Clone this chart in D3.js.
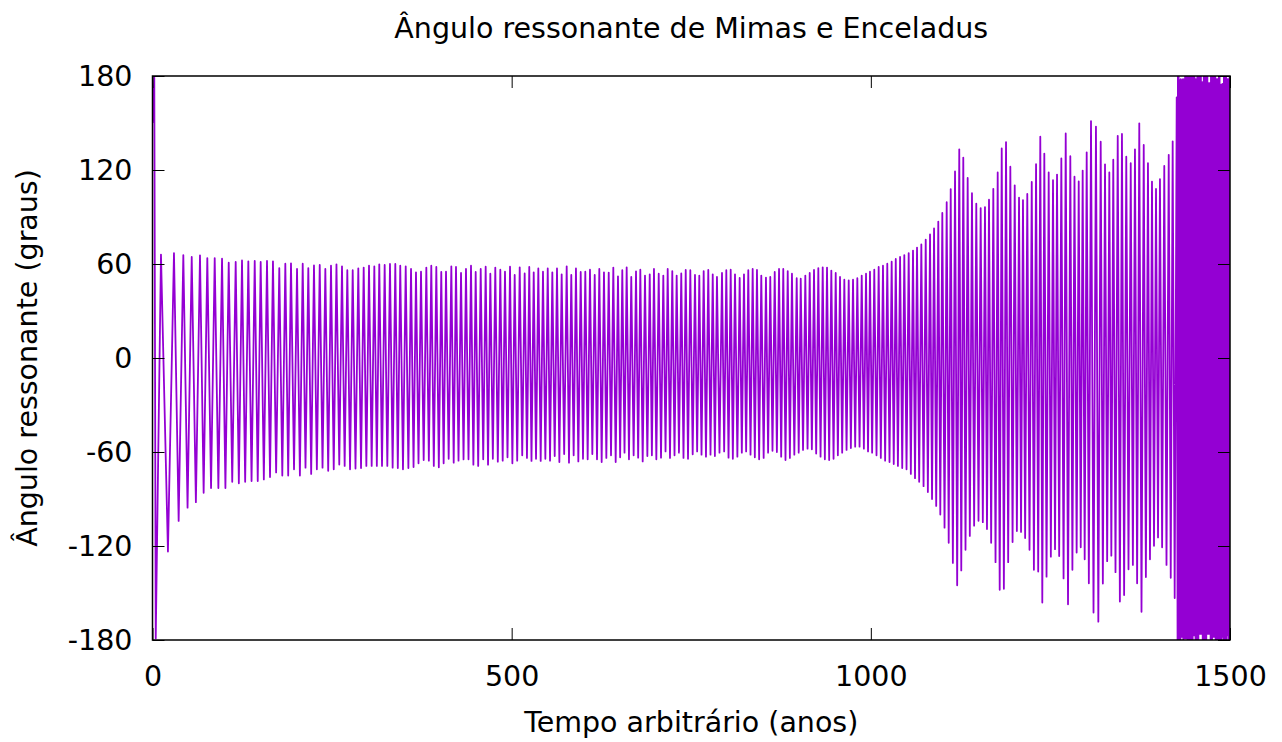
<!DOCTYPE html>
<html>
<head>
<meta charset="utf-8">
<script src="https://cdn.jsdelivr.net/npm/d3@7"></script>
<style>
  body { margin: 0; background: #fff; }
  svg { display: block; }
  text { font-family: "DejaVu Sans", sans-serif; fill: #000; }
</style>
</head>
<body>
<svg id="chart" width="1282" height="742"></svg>
<script>
// Resonant angle of the Mimas–Enceladus pair: turning points of each libration
// cycle (years, degrees), then the circulating stretch at the end of the run.

const xTicks = [0, 500, 1000, 1500];
const yTicks = [-180, -120, -60, 0, 60, 120, 180];

// Capture: the angle reaches +180, wraps to -180, then starts librating.
const startYears = [0, 2.5, 4.5];
const startDegrees = [150, 179, -179];

// Maxima of each libration cycle
const peakYears = [
  11.8, 29.9, 42.9, 54.6, 66.1, 76.3, 86.6, 96.8, 106.1, 115.8, 124.6, 133.4, 142.3, 150.6, 159.4, 167.7, 176.5, 184.9, 192.8, 201.2, 209.1, 216.9, 224.8, 232.8, 240.6, 248.5, 256.1,
  263.8, 271.2, 278.7, 286.5, 294.0, 301.4, 308.8, 315.7, 323.2, 330.6, 338.0, 344.9, 352.5, 359.9, 366.8, 373.8, 381.2, 388.1, 395.1, 402.0, 408.6, 416.0, 422.5, 429.5, 436.4, 443.4, 449.9, 456.9, 463.8, 470.3, 477.2, 484.2, 490.7, 497.7, 504.2, 511.2, 518.1, 524.5,
  530.7, 537.1, 543.6, 550.2, 556.6, 563.1, 569.6, 576.6, 583.0, 589.5, 596.1, 602.5, 609.0, 615.6, 622.0, 628.5, 635.1, 641.5, 648.0, 654.0, 660.1, 666.5, 673.1, 679.1, 685.6, 692.2, 698.1, 704.7, 711.1, 717.2, 723.6, 729.7, 736.1, 742.3, 748.7, 755.2, 761.2, 767.3, 773.7, 779.9, 785.8,
  792.8, 798.8, 804.9, 810.9, 817.4, 823.4, 829.4, 835.5, 841.5, 847.5, 854.0, 860.0, 866.2, 872.2, 878.1, 884.3, 890.2, 896.8, 902.4, 908.8, 914.9, 920.9, 926.9, 933.0, 939.0, 945.0, 951.1, 957.1, 963.1, 969.2, 975.2, 981.2, 987.3, 993.3, 998.8, 1004.8, 1010.9, 1016.9, 1022.9, 1029.0, 1034.7, 1040.7, 1046.6, 1052.7,
  1058.7, 1064.3, 1070.3, 1076.4, 1082.4, 1088.0, 1093.9, 1099.5, 1105.6, 1111.2, 1117.2, 1123.1, 1128.7, 1134.8, 1140.8, 1146.8, 1152.9, 1158.9, 1164.5, 1170.5, 1176.6, 1182.2, 1188.2, 1194.2, 1200.3, 1206.3, 1211.8, 1217.8, 1224.0, 1230.0, 1235.9, 1241.5, 1247.6, 1253.6, 1259.2, 1265.2, 1271.3, 1277.7, 1283.5, 1289.4,
  1294.9, 1300.5, 1306.5, 1313.4, 1320.0, 1326.0, 1332.0, 1337.5, 1343.7, 1349.6, 1355.6, 1361.8, 1367.7, 1373.7, 1379.9, 1385.8, 1391.4, 1397.0, 1402.5, 1408.5, 1414.7, 1420.2, 1425.8
];
const peakDegrees = [
  66, 67, 65.7, 64.5, 65.5, 63.8, 63.8, 63.4, 60.8, 61.3, 62.3, 61.7, 61.9, 61.3, 61.9, 61.7, 57.4, 60.2, 60.4, 56.8, 60.2, 57.4, 59.1, 59.4, 56.8, 58.9, 59.8,
  58.5, 56, 56, 57.2, 57.7, 58.9, 58.5, 59.8, 59.4, 60, 60, 58.9, 58.5, 56.8, 54.7, 55.1, 57.7, 58.9, 58.1, 54.9, 55.1, 58.5, 58.1, 54.3, 56.8, 58.9, 54.9, 56.8, 58.3, 53.8, 57.7, 56.4, 55.1, 58.3, 53, 57.9, 54, 58.1,
  54.7, 57.2, 55.1, 57.2, 54.7, 57.2, 53.4, 58.5, 53, 57.2, 54.9, 55.1, 56.4, 53, 56.8, 54.7, 54.5, 57.7, 52.1, 56, 57.9, 51.7, 55.3, 56.4, 52.6, 53.4, 56.8, 53.8, 52.6, 56.8, 55.5, 52.6, 54, 56.2, 56, 53, 52.6, 55.5, 56.2, 53.4, 51.7,
  54.3, 56, 56.4, 53.4, 51.1, 53.4, 56, 56.8, 56.2, 52.6, 51.3, 51.7, 54.9, 56.8, 56.8, 55.5, 53.8, 50.9, 50.6, 52.6, 54.3, 56.2, 57.4, 57.9, 57.7, 55.8, 54.3, 51.7, 50, 49.6, 50, 50.9, 52.6, 53.8, 55.1, 56.4, 58.1, 58.9, 60.2, 61.5, 63.2, 64.5, 65.7, 67,
  68.6, 70.5, 72.5, 75.6, 78.9, 82.7, 87.1, 92.6, 99.4, 107.8, 119.1, 133.2, 127.9, 114.9, 105.2, 98.6, 95.7, 96.3, 101, 108, 118.4, 133.8, 137.8, 122.1, 110.2, 102.3, 100.8, 104.7, 112.4, 123.7, 141.3, 130.5, 118.4, 113.5, 117.1, 127.4, 143.3, 128.8, 115.7, 112.7,
  119.6, 131.3, 151.2, 147.7, 138.1, 123.6, 118.4, 126.6, 141.8, 143, 128.5, 124.3, 133.2, 149.8, 136, 124.3, 112.6, 107.9, 114.2, 122.6, 129.7, 138.3, 166.4
];

// Minima, each one following the maximum of the same index
const troughYears = [
  21.5, 36.4, 48.8, 60.4, 71.2, 81.5, 91.7, 101.5, 111.0, 120.2, 129.0, 137.9, 146.5, 155.0, 163.6, 172.1, 180.7, 188.9, 197.0, 205.2, 213.0, 220.9, 228.8, 236.7, 244.6, 252.3, 260.0,
  267.5, 275.0, 282.6, 290.3, 297.7, 305.1, 312.3, 319.5, 326.9, 334.3, 341.5, 348.7, 356.2, 363.4, 370.3, 377.5, 384.7, 391.6, 398.6, 405.3, 412.3, 419.3, 426.0, 433.0, 439.9, 446.7, 453.4, 460.4, 467.1, 473.8, 480.7, 487.5, 494.2, 501.0, 507.7, 514.7, 521.3, 527.6,
  533.9, 540.4, 546.9, 553.4, 559.9, 566.4, 573.1, 579.8, 586.3, 592.8, 599.3, 605.8, 612.3, 618.8, 625.3, 631.8, 638.3, 644.8, 651.0, 657.1, 663.3, 669.8, 676.1, 682.4, 688.9, 695.2, 701.4, 707.9, 714.2, 720.4, 726.7, 732.9, 739.2, 745.5, 752.0, 758.2, 764.3, 770.5, 776.8, 782.9, 789.3,
  795.8, 801.9, 807.9, 814.2, 820.4, 826.4, 832.5, 838.5, 844.5, 850.8, 857.0, 863.1, 869.2, 875.2, 881.2, 887.3, 893.5, 899.6, 905.6, 911.9, 917.9, 923.9, 930.0, 936.0, 942.0, 948.1, 954.1, 960.1, 966.2, 972.2, 978.2, 984.3, 990.3, 996.1, 1001.8, 1007.9, 1013.9, 1019.9, 1026.0, 1031.9, 1037.7, 1043.7, 1049.7, 1055.7,
  1061.5, 1067.3, 1073.4, 1079.4, 1085.2, 1091.0, 1096.7, 1102.6, 1108.4, 1114.2, 1120.2, 1125.9, 1131.8, 1137.8, 1143.8, 1149.9, 1155.9, 1161.7, 1167.5, 1173.6, 1179.4, 1185.2, 1191.2, 1197.3, 1203.3, 1209.1, 1214.8, 1220.9, 1227.0, 1233.0, 1238.7, 1244.6, 1250.6, 1256.4, 1262.2, 1268.3, 1274.5, 1280.6, 1286.5, 1292.2,
  1297.7, 1303.5, 1310.0, 1316.7, 1323.0, 1329.0, 1334.8, 1340.6, 1346.7, 1352.6, 1358.7, 1364.8, 1370.7, 1376.8, 1382.9, 1388.6, 1394.2, 1399.8, 1405.5, 1411.6, 1417.5, 1423.0
];
const troughDegrees = [
  -123.5, -104, -95.5, -92, -86, -83, -83, -83, -79, -80, -79, -78.5, -78.5, -77.5, -76, -73, -75, -75, -71, -75, -70, -74, -71, -70, -72, -71, -68,
  -68.9, -71, -70.6, -70.2, -68.9, -68.9, -68.9, -68.9, -68.9, -70, -70.2, -71, -70.2, -69.6, -67.2, -65.1, -65.5, -68.9, -69.8, -67.2, -64.3, -66.8, -65.5, -64.7, -64.7, -68.1, -68.9, -64.7, -68.1, -64.3, -66.2, -65.5, -63.4, -67.2, -65.5, -62.1, -63.8, -65.7,
  -64.3, -65.7, -64.3, -65.5, -62.6, -66.4, -61.3, -66.8, -62.1, -66, -64.3, -64.7, -61.3, -64.7, -66.4, -63.8, -62.1, -66.4, -63.4, -60.4, -64.7, -62.1, -63.6, -66, -62.6, -62.1, -64.7, -63.6, -59.6, -63.8, -62.1, -60.4, -63.8, -64.3, -61.5, -59.6, -61.7, -63, -61.7, -62.6, -60.4,
  -59.6, -63.6, -64.3, -63, -60.4, -59.6, -61.7, -63.4, -64.7, -63.8, -60.4, -59.2, -60, -63, -65.1, -63.8, -61.7, -60.4, -58.7, -57.9, -58.3, -61, -63, -64.7, -65.1, -64.3, -62.1, -60.4, -58.7, -57.5, -56.6, -56.6, -57.9, -59.6, -60.4, -62.1, -63.8, -65.5, -66.4, -67.7, -68.9, -70.2, -71, -74,
  -76.7, -79, -81.8, -85.6, -90, -94.4, -99.9, -108.3, -118, -130.8, -145.1, -135.6, -122.4, -113.6, -107, -103.9, -104.8, -109.2, -118, -130.3, -148, -147.3, -130.3, -117.5, -110.5, -111, -114.9, -122.4, -135.2, -136.3, -156.1, -139.6, -126.8, -122, -126.4, -140.7, -157.2, -135.2, -124.2, -120.8,
  -128.5, -143.8, -162.5, -168.3, -144, -129.7, -126.2, -136.7, -155.5, -151.3, -134.9, -132.1, -143.8, -162, -139.8, -128.5, -119.9, -114.5, -120.8, -132.1, -140.3, -153.2
];

// Circulation after escape: output every half year from 1427 to 1500,
// alternating a low sample (whole years) and a high sample (half years).
const circStartYear = 1427;
const circStepYears = 0.5;
const circLow = [
  -180, -180, -180, -180, -180, -178, -178, -178, -180, -179, -179, -179, -179, -179, -180, -180, -180, -180, -180, -180, -180, -180, -177, -177, -177,
  -180, -180, -176, -180, -180, -176, -176, -176, -176, -176, -180, -180, -180, -180, -180, -180, -176, -176, -176, -176, -176, -180, -180, -180,
  -178, -178, -178, -178, -180, -180, -176, -180, -180, -180, -180, -180, -180, -178, -178, -180, -180, -175, -180, -180, -177, -177, -180, -180, -180
];
const circHigh = [
  180, 179.5, 177.5, 177, 178, 177.5, 177, 178, 177.5, 178, 180, 180, 179.5, 180, 180, 180, 179.5, 180, 180, 180, 179.5, 180, 180, 180, 178,
  178, 178, 180, 180, 180, 179.5, 180, 180, 176, 176, 176, 180, 180, 180, 179.5, 180, 180, 175.5, 175.5, 175.5, 175.5, 180, 180, 180,
  179.5, 180, 180, 180, 178, 178, 178, 178, 180, 180, 174, 174.5, 174, 175, 174, 180, 180, 180, 180, 178, 178, 178, 178, 180
];

// ---------------------------------------------------------------------------

const svg = d3.select("#chart");
const plot = { left: 152.5, right: 1230, top: 76, bottom: 640 };
const fontSize = "28.5px";

const x = d3.scaleLinear().domain([0, 1500]).range([plot.left, plot.right]);
const y = d3.scaleLinear().domain([-180, 180]).range([plot.bottom, plot.top]);

// Assemble the series in time order
const series = [];
startYears.forEach((t, i) => series.push([t, startDegrees[i]]));
peakYears.forEach((t, i) => {
  series.push([t, peakDegrees[i]]);
  if (i < troughYears.length) series.push([troughYears[i], troughDegrees[i]]);
});
circLow.forEach((v, j) => {
  series.push([circStartYear + j * 2 * circStepYears, v]);
  if (j < circHigh.length) series.push([circStartYear + (j * 2 + 1) * circStepYears, circHigh[j]]);
});

svg.append("defs").append("clipPath").attr("id", "plot-clip")
  .append("rect")
  .attr("x", plot.left).attr("y", plot.top)
  .attr("width", plot.right - plot.left).attr("height", plot.bottom - plot.top);

const line = d3.line().x(d => x(d[0])).y(d => y(d[1]));

svg.append("path")
  .datum(series)
  .attr("clip-path", "url(#plot-clip)")
  .attr("fill", "none")
  .attr("stroke", "#9400d3")
  .attr("stroke-width", 1.8)
  .attr("stroke-linejoin", "round")
  .attr("d", line);

// Axes: ticks point inward, mirrored on the top and right edges
const tickLen = 12;
const fmt = d => String(d);

const styleAxis = g => {
  g.select(".domain").remove();
  g.selectAll(".tick line").attr("stroke", "#000").attr("stroke-width", 1);
  g.selectAll(".tick text")
    .attr("fill", "#000")
    .style("font-family", '"DejaVu Sans", sans-serif')
    .style("font-size", fontSize);
};

svg.append("g")
  .attr("transform", `translate(0,${plot.bottom})`)
  .call(d3.axisBottom(x).tickValues(xTicks).tickFormat(fmt).tickSize(-tickLen).tickPadding(26))
  .call(styleAxis);

svg.append("g")
  .attr("transform", `translate(0,${plot.top})`)
  .call(d3.axisTop(x).tickValues(xTicks).tickFormat("").tickSize(-tickLen))
  .call(styleAxis);

svg.append("g")
  .attr("transform", `translate(${plot.left},0)`)
  .call(d3.axisLeft(y).tickValues(yTicks).tickFormat(fmt).tickSize(-tickLen).tickPadding(20))
  .call(styleAxis);

svg.append("g")
  .attr("transform", `translate(${plot.right},0)`)
  .call(d3.axisRight(y).tickValues(yTicks).tickFormat("").tickSize(-tickLen))
  .call(styleAxis);

// Frame
svg.append("rect")
  .attr("x", plot.left).attr("y", plot.top)
  .attr("width", plot.right - plot.left).attr("height", plot.bottom - plot.top)
  .attr("fill", "none")
  .attr("stroke", "#000")
  .attr("stroke-width", 1.5);

// Titles
const cx = (plot.left + plot.right) / 2;

svg.append("text")
  .attr("x", cx).attr("y", 38)
  .attr("text-anchor", "middle")
  .style("font-size", fontSize)
  .text("Ângulo ressonante de Mimas e Enceladus");

svg.append("text")
  .attr("x", cx).attr("y", 732)
  .attr("text-anchor", "middle")
  .style("font-size", fontSize)
  .text("Tempo arbitrário (anos)");

svg.append("text")
  .attr("transform", `translate(37,${(plot.top + plot.bottom) / 2}) rotate(-90)`)
  .attr("text-anchor", "middle")
  .style("font-size", fontSize)
  .text("Ângulo ressonante (graus)");
</script>
</body>
</html>
